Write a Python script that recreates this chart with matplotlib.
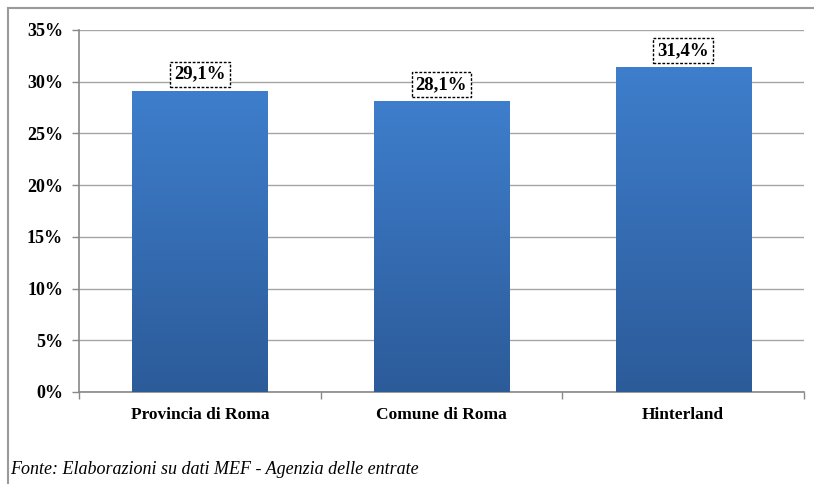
import matplotlib
matplotlib.use("Agg")
import matplotlib.pyplot as plt
import numpy as np
from matplotlib.colors import LinearSegmentedColormap
from matplotlib.lines import Line2D

categories = ["Provincia di Roma", "Comune di Roma", "Hinterland"]
values = [29.1, 28.1, 31.4]
labels = ["29,1%", "28,1%", "31,4%"]
yticks = [0, 5, 10, 15, 20, 25, 30, 35]
ytick_labels = ["0%", "5%", "10%", "15%", "20%", "25%", "30%", "35%"]
source = "Fonte: Elaborazioni su dati MEF - Agenzia delle entrate"

plt.rcParams['font.family'] = ['Liberation Serif', 'DejaVu Serif']

fig = plt.figure(figsize=(8.14, 4.84), dpi=100)
ax = fig.add_axes([79/814, 1 - 392/484, (804 - 79)/814, (392 - 30)/484])

x = np.arange(len(categories))
bars = ax.bar(x, values, width=0.56, color='none', edgecolor='none', zorder=3)

cmap = LinearSegmentedColormap.from_list("g", ["#2c5b99", "#3e7ecc"])
grad = np.linspace(0, 1, 256).reshape(-1, 1)
for b in bars:
    x0, y0, w, h = b.get_x(), b.get_y(), b.get_width(), b.get_height()
    im = ax.imshow(grad, extent=[x0, x0 + w, y0, y0 + h], origin='lower',
                   aspect='auto', cmap=cmap, zorder=3)
    im.set_clip_path(b)

ax.set_xlim(-0.5, len(categories) - 0.5)
ax.set_ylim(0, 35)
ax.set_yticks(yticks)
ax.set_yticklabels(ytick_labels, fontsize=13, fontweight='bold')
ax.set_xticks(x)
ax.set_xticklabels(categories, fontsize=12.5, fontweight='bold')
ax.tick_params(axis='x', length=0, pad=11)
ax.set_xticks(np.arange(len(categories) + 1) - 0.5, minor=True)
ax.tick_params(axis='x', which='minor', length=5, color='#888888', width=1)
ax.tick_params(axis='y', length=5, color='#888888', width=1, pad=6.5)
ax.yaxis.grid(True, color='#a6a6a6', linewidth=1, zorder=0)
ax.set_axisbelow(True)
for s in ['top', 'right']:
    ax.spines[s].set_visible(False)
ax.spines['left'].set_color('#888888')
ax.spines['bottom'].set_color('#888888')
ax.spines['left'].set_linewidth(1.2)
ax.spines['bottom'].set_linewidth(1.2)

for xi, v, lab in zip(x, values, labels):
    ax.annotate(lab, (xi, v), xytext=(0, 6), textcoords='offset points',
                ha='center', va='bottom', fontsize=13.5, fontweight='bold', zorder=5,
                bbox=dict(boxstyle='square,pad=0.22', facecolor='white',
                          edgecolor='black', linestyle=(0, (2, 1.2)), linewidth=1))

fig.text(10/814, 1 - 470/484, source, fontsize=13, style='italic', ha='left', va='center')

# outer frame (top and left)
fig.add_artist(Line2D([8/814, 1], [1 - 8/484, 1 - 8/484], transform=fig.transFigure,
                      color='#9a9a9a', linewidth=1.5))
fig.add_artist(Line2D([8/814, 8/814], [0, 1 - 8/484], transform=fig.transFigure,
                      color='#9a9a9a', linewidth=1.5))

fig.savefig("out.png", dpi=100)
